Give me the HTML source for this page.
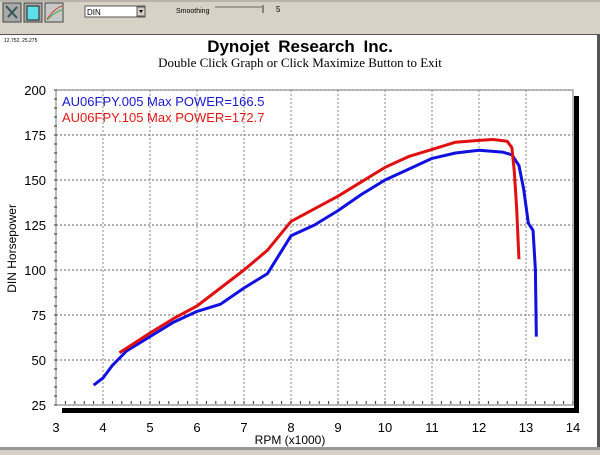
<!DOCTYPE html>
<html><head><meta charset="utf-8"><style>
body{margin:0;width:600px;height:450px;overflow:hidden;background:#d6d0c6;font-family:"Liberation Sans",sans-serif}
</style></head><body>
<svg width="600" height="450" xmlns="http://www.w3.org/2000/svg" font-family="Liberation Sans, sans-serif">
<rect x="0" y="0" width="600" height="34" fill="#d8d2c6"/>
<rect x="0" y="0" width="600" height="2" fill="#b8b4ac"/>
<g><rect x="3" y="3" width="18" height="19" fill="#a8a8a8" stroke="#444"/><path d="M6 6 L17 18 M8 17 L17 7" stroke="#355" stroke-width="2"/></g>
<g><rect x="24" y="3" width="18" height="19" fill="#a8a8a8" stroke="#444"/><rect x="27" y="6" width="12" height="14" fill="#5ee0e8" stroke="#222"/></g>
<g><rect x="45" y="3" width="18" height="19" fill="#c8c8c8" stroke="#444"/><path d="M47 19 Q55 8 62 6" stroke="#c44" fill="none"/><path d="M47 20 Q56 11 62 10" stroke="#4a4" fill="none"/></g>
<g><rect x="85" y="6" width="60" height="11" fill="#fff" stroke="#555"/><text x="87" y="15" font-size="8">DIN</text><rect x="137" y="7" width="8" height="9" fill="#d4d0c8" stroke="#555"/><path d="M139 10 L143 10 L141 13 Z" fill="#000"/></g>
<text x="176" y="13" font-size="7">Smoothing</text>
<g><line x1="215" y1="7" x2="262" y2="7" stroke="#666"/><line x1="263" y1="5" x2="263" y2="13" stroke="#333"/></g>
<text x="276" y="12" font-size="8">5</text>
<rect x="0" y="34" width="600" height="1" fill="#555"/>
<rect x="0" y="35" width="597" height="413" fill="#fff"/>
<rect x="597" y="35" width="3" height="415" fill="#555"/>
<rect x="0" y="447" width="600" height="3" fill="#999"/>
<text x="4" y="42" font-size="5">12.752, 25.275</text>
<text x="300" y="52" font-size="17" font-weight="bold" text-anchor="middle" word-spacing="4">Dynojet Research Inc.</text>
<text x="300" y="67" font-size="13" text-anchor="middle" font-family="Liberation Serif, serif">Double Click Graph or Click Maximize Button to Exit</text>
<g id="plot"></g>
</svg>
<script>
const yTicks=[25,50,75,100,125,150,175,200];
const xTicks=[3,4,5,6,7,8,9,10,11,12,13,14];
const blueRpm=[3.8,4.0,4.2,4.5,5,5.5,6,6.5,7,7.5,8,8.5,9,9.5,10,10.5,11,11.5,12,12.5,12.7,12.85,12.95,13.05,13.15,13.2,13.22];
const blueHp=[36,40,47,55,63,71,77,81,90,98,119,125,133,142,150,156,162,165,166.5,165.5,164,158,145,126,122,100,63];
const redRpm=[4.35,5,5.5,6,6.5,7,7.5,8,8.5,9,9.5,10,10.5,11,11.5,12,12.3,12.6,12.7,12.75,12.8,12.85];
const redHp=[54,65,73,80,90,100,111,127,134,141,149,157,163,167,171,172,172.5,171.5,168,155,135,106];
const X=r=>56+(r-3)*47, Y=v=>405-(v-25)*1.8;
const ns='http://www.w3.org/2000/svg', g=document.getElementById('plot');
function mk(t,a,p){const e=document.createElementNS(ns,t);for(const k in a)e.setAttribute(k,a[k]);(p||g).appendChild(e);return e;}
let sh=mk('rect',{x:X(3)+6,y:Y(25)+3,width:X(14)-X(3),height:5,fill:'#000'});


let sr=mk('rect',{x:X(14)+1,y:Y(200)+6,width:5,height:Y(25)-Y(200),fill:'#000'});


let pb=mk('rect',{x:X(3),y:Y(200),width:X(14)-X(3),height:Y(25)-Y(200),fill:'#fff',stroke:'#777'});


yTicks.forEach(v=>{
 const l=mk('line',{x1:X(3),x2:X(14),y1:Y(v),y2:Y(v),stroke:'#666','stroke-dasharray':'2,2'});
 
 
 const t=mk('text',{x:X(3)-10,y:Y(v)+5,'font-size':13,'text-anchor':'end'});t.textContent=v;
 
 
});
for(let v=25;v<=200;v+=5){mk('line',{x1:X(3)-2,x2:X(3)+1,y1:Y(v),y2:Y(v),stroke:'#333'});}
xTicks.forEach(r=>{
 if(r>3&&r<14){const l=mk('line',{x1:X(r),x2:X(r),y1:Y(200),y2:Y(25),stroke:'#888','stroke-dasharray':'2,2'});
 
 }
 const t=mk('text',{x:X(r),y:Y(25)+27,'font-size':13,'text-anchor':'middle'});t.textContent=r;
 
 
});
for(let r=3.2;r<14;r+=0.2){mk('line',{x1:X(r),x2:X(r),y1:Y(25)-4,y2:Y(25)-1,stroke:'#333'});}
function line(xs,ys,c,n){const p=mk('polyline',{points:xs.map((r,i)=>X(r)+','+Y(ys[i])).join(' '),fill:'none',stroke:c,'stroke-width':3,'stroke-linejoin':'round'});
 
 }
line(blueRpm,blueHp,'#1010e0','series-au06fpy-005');
line(redRpm,redHp,'#e01010','series-au06fpy-105');
let a=mk('text',{x:62,y:106,'font-size':13,fill:'#1818d0'});a.textContent='AU06FPY.005  Max POWER=166.5';


let b=mk('text',{x:62,y:122,'font-size':13,fill:'#e01818'});b.textContent='AU06FPY.105  Max POWER=172.7';


let xt=mk('text',{x:290,y:444,'font-size':12,'text-anchor':'middle'});xt.textContent='RPM (x1000)';


let yt=mk('text',{x:16,y:Y(112),'font-size':12,'text-anchor':'middle',transform:'rotate(-90 16 '+Y(112)+')'});yt.textContent='DIN Horsepower';


</script>
</body></html>
